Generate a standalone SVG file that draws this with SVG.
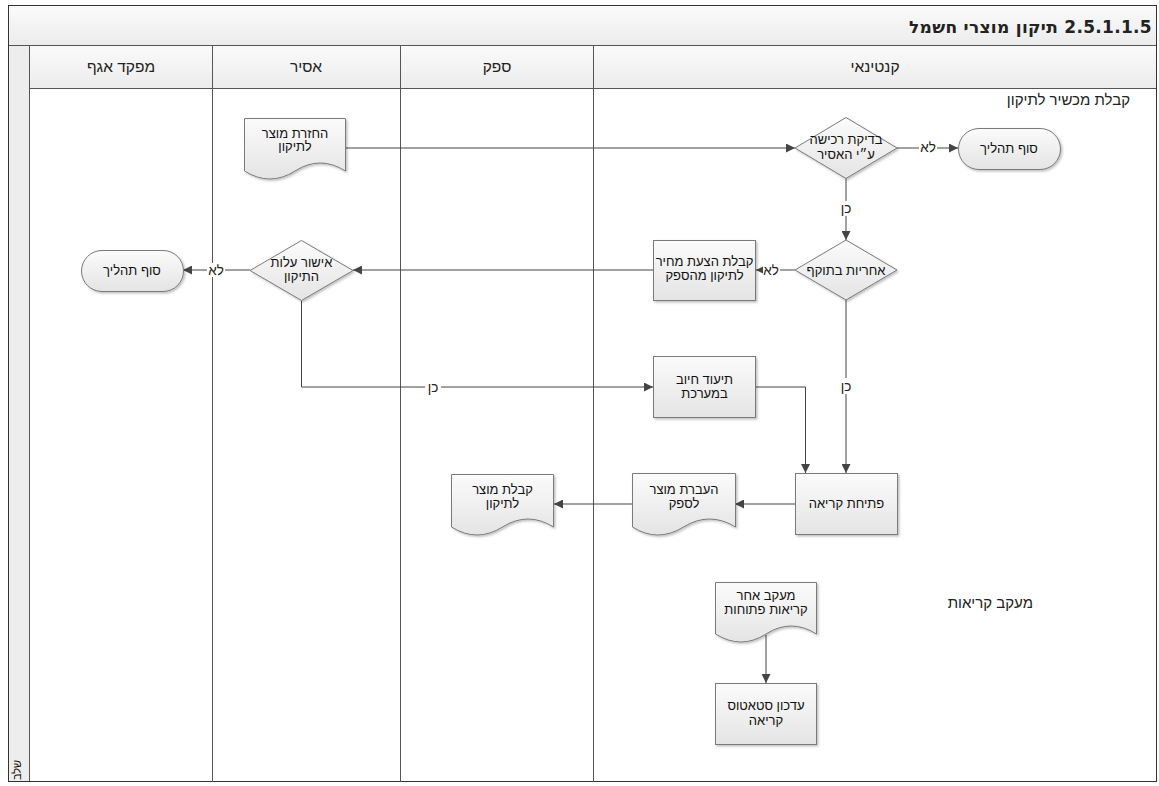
<svg xmlns="http://www.w3.org/2000/svg" width="1159" height="786" viewBox="0 0 1159 786">
<style>
.t{font-family:"Liberation Sans","DejaVu Sans",sans-serif;font-size:13px;fill:#111;text-anchor:middle}
.hd{font-family:"Liberation Sans","DejaVu Sans",sans-serif;font-size:15.5px;fill:#222;text-anchor:middle}
.ln{font-family:"Liberation Sans","DejaVu Sans",sans-serif;font-size:15px;fill:#222;text-anchor:end}
.ttl{font-family:"DejaVu Sans","Liberation Sans",sans-serif;font-size:17px;font-weight:bold;fill:#222;letter-spacing:0.3px}
.lab{font-family:"Liberation Sans","DejaVu Sans",sans-serif;font-size:13.5px;fill:#222;text-anchor:middle}
.shp{fill:url(#gn);stroke:#7a7a7a;stroke-width:1;filter:url(#sh)}
.cn{fill:none;stroke:#444;stroke-width:1}
.ar{marker-end:url(#ah)}
.grid{stroke:#555;stroke-width:1;fill:none}
</style>
<defs>
<linearGradient id="gn" x1="0" y1="0" x2="0" y2="1">
<stop offset="0" stop-color="#fbfbfb"/><stop offset="1" stop-color="#e4e4e4"/>
</linearGradient>
<linearGradient id="gh" x1="0" y1="0" x2="0" y2="1">
<stop offset="0" stop-color="#fafafa"/><stop offset="1" stop-color="#ececec"/>
</linearGradient>
<filter id="sh" x="-10%" y="-10%" width="130%" height="130%">
<feDropShadow dx="1.5" dy="1.5" stdDeviation="1" flood-color="#000" flood-opacity="0.25"/>
</filter>
<marker id="ah" viewBox="0 0 10 10" refX="10" refY="5" markerWidth="9" markerHeight="9" markerUnits="userSpaceOnUse" orient="auto">
<path d="M0,0 L10,5 L0,10 z" fill="#444"/>
</marker>
</defs>
<rect x="0" y="0" width="1159" height="786" fill="#fff"/>
<g id="frame">
<rect x="8.5" y="5.5" width="1148" height="40" fill="url(#gh)" stroke="#444"/>
<rect x="29.5" y="45.5" width="1127" height="43" fill="url(#gh)" stroke="#555"/>
<rect x="8.5" y="45.5" width="21" height="736" fill="#ededed" stroke="#555"/>
<rect x="8.5" y="5.5" width="1148" height="776" fill="none" stroke="#333"/>
<line class="grid" x1="212.5" y1="45" x2="212.5" y2="782"/>
<line class="grid" x1="400.5" y1="45" x2="400.5" y2="782"/>
<line class="grid" x1="593.5" y1="45" x2="593.5" y2="782"/>
<text class="ttl" x="1152" y="33" direction="rtl" text-anchor="start">2.5.1.1.5 תיקון מוצרי חשמל</text>
<text class="hd" x="121" y="72">מפקד אגף</text>
<text class="hd" x="306" y="72">אסיר</text>
<text class="hd" x="497" y="72">ספק</text>
<text class="hd" x="875" y="72">קנטינאי</text>
<text class="ln" x="1130" y="105">קבלת מכשיר לתיקון</text>
<text class="ln" x="1033" y="608">מעקב קריאות</text>
<text class="t" transform="translate(21,770) rotate(-90)" style="font-size:11px">שלב</text>
</g>
<g id="connectors">
<path class="cn ar" d="M346,148 H795"/>
<path class="cn ar" d="M897,148 H958"/>
<path class="cn ar" d="M846,178.5 V240"/>
<path class="cn ar" d="M795,270 H756"/>
<path class="cn ar" d="M653,270 H353"/>
<path class="cn ar" d="M250,270 H183"/>
<path class="cn ar" d="M301.5,300.5 V387 H653"/>
<path class="cn ar" d="M756,387 H805.5 V473"/>
<path class="cn ar" d="M846,300 V473"/>
<path class="cn ar" d="M795,504 H735"/>
<path class="cn ar" d="M632,504 H554"/>
<path class="cn ar" d="M766,635 V683"/>
<g id="labels">
<rect x="919" y="140" width="18" height="14" fill="#fff"/><text class="lab" x="928" y="152">לא</text>
<rect x="838" y="201" width="16" height="15" fill="#fff"/><text class="lab" x="846" y="213">כן</text>
<rect x="763" y="263" width="17" height="14" fill="#fff"/><text class="lab" x="771" y="275">לא</text>
<rect x="207" y="263" width="18" height="14" fill="#fff"/><text class="lab" x="216" y="275">לא</text>
<rect x="425" y="380" width="16" height="14" fill="#fff"/><text class="lab" x="433" y="392">כן</text>
<rect x="838" y="378" width="16" height="16" fill="#fff"/><text class="lab" x="846" y="391">כן</text>
</g>
</g>
<g id="n_return_doc">
<path class="shp" d="M244.5,118.5 H345.5 V171 Q320,155 295,171 Q270,187 244.5,171 Z"/>
<text class="t" x="295" y="137.5">החזרת מוצר</text>
<text class="t" x="295" y="151">לתיקון</text>
</g>
<g id="n_check_purchase">
<path class="shp" d="M846,117.5 L897,148 L846,178.5 L795,148 Z"/>
<text class="t" x="846" y="144">בדיקת רכישה</text>
<text class="t" x="846" y="158.5">ע״י האסיר</text>
</g>
<g id="n_end1">
<rect class="shp" x="958.5" y="128.5" width="102" height="41" rx="20.5"/>
<text class="t" x="1009" y="153">סוף תהליך</text>
</g>
<g id="n_warranty">
<path class="shp" d="M846,240 L897,270 L846,300 L795,270 Z"/>
<text class="t" x="846" y="274.5">אחריות בתוקף</text>
</g>
<g id="n_quote">
<rect class="shp" x="653.5" y="240.5" width="102" height="60"/>
<text class="t" x="704.5" y="266">קבלת הצעת מחיר</text>
<text class="t" x="704.5" y="280">לתיקון מהספק</text>
</g>
<g id="n_approve">
<path class="shp" d="M301.5,240.5 L353,270.5 L301.5,300.5 L250,270.5 Z"/>
<text class="t" x="301.5" y="267">אישור עלות</text>
<text class="t" x="301.5" y="281">התיקון</text>
</g>
<g id="n_end2">
<rect class="shp" x="81.5" y="250.5" width="102" height="41" rx="20.5"/>
<text class="t" x="132" y="275">סוף תהליך</text>
</g>
<g id="n_charge">
<rect class="shp" x="653.5" y="356.5" width="102" height="61"/>
<text class="t" x="704.5" y="383.5">תיעוד חיוב</text>
<text class="t" x="704.5" y="397.5">במערכת</text>
</g>
<g id="n_open_call">
<rect class="shp" x="795.5" y="473.5" width="102" height="61"/>
<text class="t" x="846.5" y="508">פתיחת קריאה</text>
</g>
<g id="n_transfer_doc">
<path class="shp" d="M632.5,473.5 H735.5 V527 Q709.5,511 683.5,527 Q657.5,543 632.5,527 Z"/>
<text class="t" x="684" y="493.5">העברת מוצר</text>
<text class="t" x="684" y="507.5">לספק</text>
</g>
<g id="n_receive_doc">
<path class="shp" d="M451.5,474.5 H553.5 V527 Q528,511 502.5,527 Q477,543 451.5,527 Z"/>
<text class="t" x="502.5" y="493.5">קבלת מוצר</text>
<text class="t" x="502.5" y="507.5">לתיקון</text>
</g>
<g id="n_track_doc">
<path class="shp" d="M715.5,582.5 H816.5 V634 Q791,618 766,634 Q741,650 715.5,634 Z"/>
<text class="t" x="766" y="600">מעקב אחר</text>
<text class="t" x="766" y="614">קריאות פתוחות</text>
</g>
<g id="n_update_status">
<rect class="shp" x="715.5" y="683.5" width="101" height="61"/>
<text class="t" x="766" y="710">עדכון סטאטוס</text>
<text class="t" x="766" y="724.5">קריאה</text>
</g>
</svg>
